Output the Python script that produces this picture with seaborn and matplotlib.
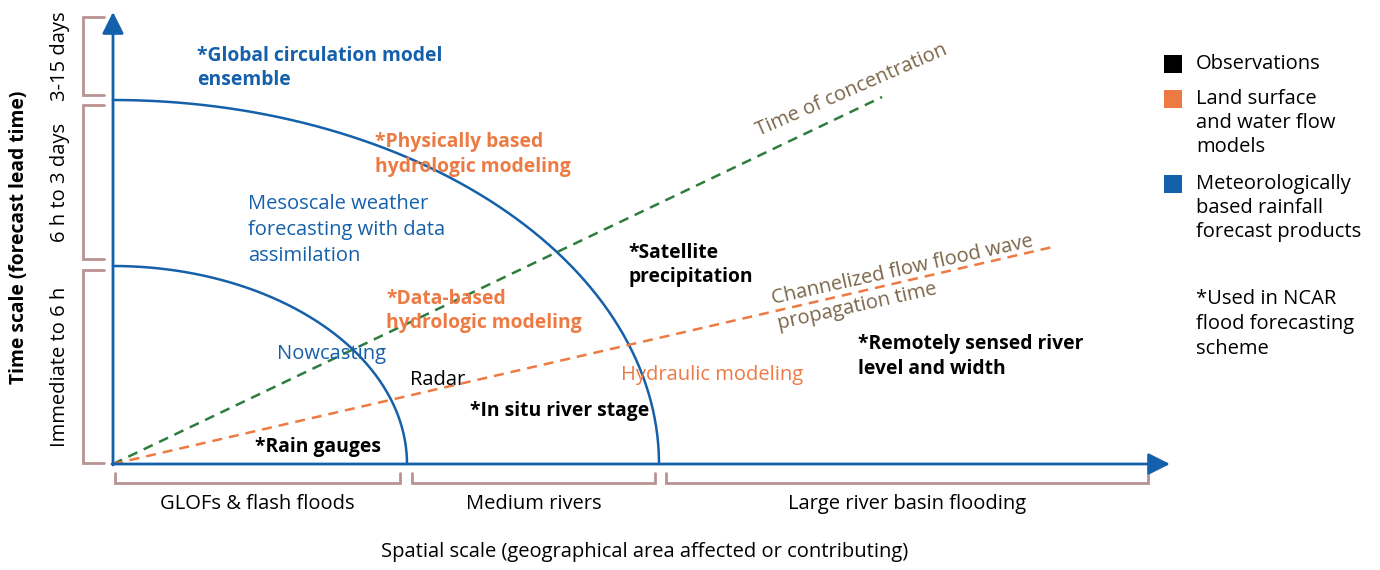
import numpy as np
import pandas as pd
import matplotlib
matplotlib.use("Agg")
import matplotlib.pyplot as plt
import seaborn as sns

sns.set_theme(style="white")
plt.rcParams['font.family'] = ['Open Sans', 'DejaVu Sans']

# ---------------- data ----------------
BLUE = "#1560aa"
ORANGE = "#ee7a43"
GREEN = "#2e7d3c"
BROWN = "#7b6649"
BRACKET = "#b99393"
BLACK = "#000000"

# arcs (quarter ellipses): spatial reach, lead-time reach
arc_names = ["Nowcasting", "Mesoscale"]
arc_x_reach = [294, 546]
arc_y_reach = [198, 364]

# axis extents
x_axis_end = 1057
y_axis_end = 452

# time bands (left brackets)
time_bands = ["Immediate to 6 h", "6 h to 3 days", "3-15 days"]
time_band_lo = [1, 205, 369]
time_band_hi = [194, 359, 447]

# spatial bands (bottom brackets)
space_bands = ["GLOFs & flash floods", "Medium rivers", "Large river basin flooding"]
space_band_lo = [2, 299, 553]
space_band_hi = [287, 542, 1035]

# dashed process lines: end points
proc_names = ["Time of concentration", "Channelized flow flood wave\npropagation time"]
proc_end_x = [769, 944]
proc_end_y = [367, 218]
proc_colors = [GREEN, ORANGE]

# text labels inside the diagram
labels = [
    "*Global circulation model\nensemble",
    "*Physically based\nhydrologic modeling",
    "Mesoscale weather\nforecasting with data\nassimilation",
    "*Satellite\nprecipitation",
    "*Data-based\nhydrologic modeling",
    "Nowcasting",
    "Radar",
    "*In situ river stage",
    "*Rain gauges",
    "Hydraulic modeling",
    "*Remotely sensed river\nlevel and width",
]
label_x = [84, 262, 135, 515, 273, 164, 297, 357, 142, 508, 745]
label_y = [396, 309.5, 234, 199, 153, 110, 84, 53, 17, 89, 107.5]
label_color = [BLUE, ORANGE, BLUE, BLACK, ORANGE, BLUE, BLACK, BLACK, BLACK, ORANGE, BLACK]
label_bold = [True, True, False, True, True, False, False, True, True, False, True]

# legend
legend_labels = ["Observations", "Land surface\nand water flow\nmodels",
                 "Meteorologically\nbased rainfall\nforecast products"]
legend_colors = [BLACK, ORANGE, BLUE]
legend_sq_y = [400, 365, 280]
legend_text_y = [400, 341, 256]
note_text = "*Used in NCAR\nflood forecasting\nscheme"

# ---------------- figure ----------------
fig = plt.figure(figsize=(13.8, 5.7), dpi=100)
ax = fig.add_axes([0, 0, 1, 1])
ax.set_xlim(-113, 1267)
ax.set_ylim(-106, 464)
ax.axis("off")

FS = 14.5
FSB = 13.9
LS_B = 1.3
LS_R = 1.38

# axes with arrows
arrow_style = "-|>,head_length=1.1,head_width=0.55"
ax.annotate("", xy=(0, y_axis_end), xytext=(0, -1),
            arrowprops=dict(arrowstyle=arrow_style, color=BLUE, lw=2.0,
                            shrinkA=0, shrinkB=0))
ax.annotate("", xy=(x_axis_end, 0), xytext=(-1, 0),
            arrowprops=dict(arrowstyle=arrow_style, color=BLUE, lw=2.0,
                            shrinkA=0, shrinkB=0))

# arcs
t = np.linspace(0, np.pi / 2, 200)
for rx, ry in zip(arc_x_reach, arc_y_reach):
    df = pd.DataFrame({"x": rx * np.sin(t), "y": ry * np.cos(t)})
    sns.lineplot(data=df, x="x", y="y", ax=ax, sort=False, estimator=None,
                 color=BLUE, lw=1.8)

# dashed process lines
for ex, ey, c in zip(proc_end_x, proc_end_y, proc_colors):
    df = pd.DataFrame({"x": [0, ex], "y": [0, ey]})
    sns.lineplot(data=df, x="x", y="y", ax=ax, sort=False, estimator=None,
                 color=c, lw=1.8, dashes=False, linestyle=(0, (4, 2.8)))

# left brackets
bx, btick = -30, -9
for name, lo, hi in zip(time_bands, time_band_lo, time_band_hi):
    ax.plot([btick, bx, bx, btick], [lo, lo, hi, hi], color=BRACKET, lw=2.0,
            solid_joinstyle="miter")
    ax.text(-53, (lo + hi) / 2, name, rotation=90, ha="center", va="center",
            fontsize=FS, color="black")
ax.text(-94, 227, "Time scale (forecast lead time)", rotation=90, ha="center",
        va="center", fontsize=FSB, fontweight="bold", color="black")

# bottom brackets
by, btick2 = -19, -9
for name, lo, hi in zip(space_bands, space_band_lo, space_band_hi):
    ax.plot([lo, lo, hi, hi], [btick2, by, by, btick2], color=BRACKET, lw=2.0,
            solid_joinstyle="miter")
    ax.text((lo + hi) / 2, -40, name, ha="center", va="center", fontsize=FS,
            color="black")
ax.text(532, -88, "Spatial scale (geographical area affected or contributing)",
        ha="center", va="center", fontsize=FS, color="black")

# diagram labels
for s, x, y, c, b in zip(labels, label_x, label_y, label_color, label_bold):
    ax.text(x, y, s, ha="left", va="center", fontsize=FSB if b else FS, color=c,
            fontweight="bold" if b else "normal", linespacing=LS_B if b else LS_R)

# rotated process labels
ax.text(739, 374, proc_names[0], rotation=23.5, rotation_mode="anchor",
        ha="center", va="center", fontsize=FS, color=BROWN)
ax.text(662, 152, proc_names[1], rotation=12.5, rotation_mode="anchor",
        ha="left", va="center", fontsize=FS, color=BROWN, linespacing=1.38)

# legend
for lab, c, sy, ty in zip(legend_labels, legend_colors, legend_sq_y, legend_text_y):
    ax.scatter([1060], [sy], marker="s", s=150, color=c, linewidths=0)
    ax.text(1083, ty, lab, ha="left", va="center", fontsize=FS, color="black",
            linespacing=LS_B)
ax.text(1083, 140, note_text, ha="left", va="center", fontsize=FS, color="black",
        linespacing=LS_B)

fig.savefig("out.png", dpi=100)
